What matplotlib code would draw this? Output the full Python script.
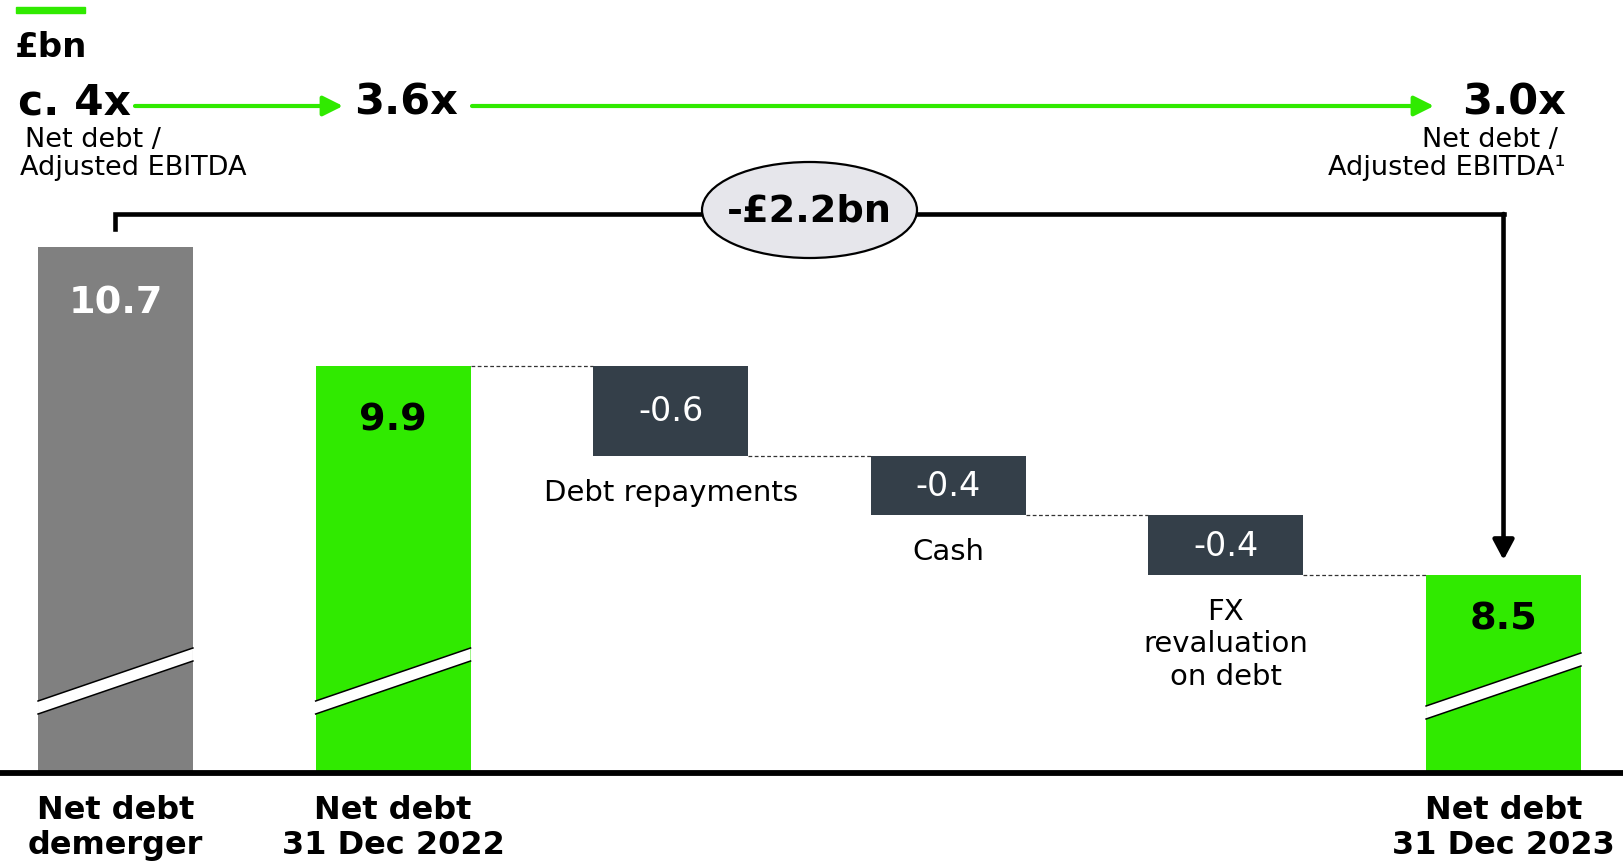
import numpy as np
import matplotlib
matplotlib.use("Agg")
import matplotlib.pyplot as plt
from matplotlib.patches import Ellipse, Polygon, Rectangle

# values in £bn
categories = ["Net debt\ndemerger", "Net debt\n31 Dec 2022", "Debt repayments", "Cash",
              "FX\nrevaluation\non debt", "Net debt\n31 Dec 2023"]
demerger_debt = 10.7
start_debt = 9.9
movements = [-0.6, -0.4, -0.4]
end_debt = 8.5
leverage = ["c. 4x", "3.6x", "3.0x"]
leverage_note = ["Net debt /", "Adjusted EBITDA", "Adjusted EBITDA\u00b9"]
total_change = "-£2.2bn"

W, H = 1624, 862
green = "#30EA00"
grey = "#808080"
slate = "#343F49"

# broken y axis: bars start at 'floor', about 149 px per £bn
floor = 7.172
px = 1 / 149.1
bar_w = 0.558

fig = plt.figure(figsize=(W / 100, H / 100), dpi=100)
ax = fig.add_axes([0, 0, 1, 1])
ax.set_xlim(-0.416, 5.434)
ax.set_ylim(floor - 88 * px, floor + 774 * px)
ax.axis("off")

# waterfall geometry
levels = start_debt + np.cumsum([0] + movements)
tops = np.array([demerger_debt, start_debt] + list(levels[:-1]) + [end_debt])
bottoms = np.array([floor, floor] + list(levels[1:]) + [floor])
x = np.arange(len(categories))
colors = [grey, green, slate, slate, slate, green]

ax.bar(x, tops - bottoms, bottom=bottoms, width=bar_w, color=colors, zorder=2)
ax.axhline(floor, color="black", lw=4.2, zorder=4)

# dashed connectors
for i in range(1, 5):
    ax.plot([i + bar_w / 2, i + 1 - bar_w / 2], [tops[i + 1], tops[i + 1]],
            color="#333333", lw=0.9, ls=(0, (3, 2)), zorder=1)

# axis break marks on the total bars
t = 13 * px
break_shift = {0: 0, 1: 0, 5: -5}
for i in [0, 1, 5]:
    xl, xr = i - bar_w / 2, i + bar_w / 2
    yl = floor + (59 + break_shift[i]) * px
    yr = floor + (112 + break_shift[i]) * px
    ax.add_patch(Polygon([(xl, yl), (xr, yr), (xr, yr + t), (xl, yl + t)],
                         closed=True, fc="white", ec="none", zorder=3))
    ax.plot([xl, xr], [yl, yr], color="black", lw=1.1, zorder=3)
    ax.plot([xl, xr], [yl + t, yr + t], color="black", lw=1.1, zorder=3)

# value labels
label_drop = {0: 56, 1: 53, 5: 44}
for i, c in [(0, "white"), (1, "black"), (5, "black")]:
    ax.text(i, tops[i] - label_drop[i] * px, f"{tops[i]:.1f}", ha="center", va="center",
            fontsize=27.5, fontweight="bold", color=c, zorder=5)
for k, v in enumerate(movements):
    i = k + 2
    ax.text(i, (tops[i] + bottoms[i]) / 2, f"{v:.1f}", ha="center", va="center",
            fontsize=24, color="white", zorder=5)
    ax.text(i, bottoms[i] - 22 * px, categories[i], ha="center", va="top",
            fontsize=21, linespacing=1.2, color="black")

for i in [0, 1, 5]:
    ax.text(i, floor - 21 * px, categories[i], ha="center", va="top",
            fontsize=23, fontweight="bold", linespacing=1.18)

# bracket with total change
yb = floor + (774 - 215) * px
ax.plot([0, 0, 5], [tops[0] + 18 * px, yb, yb], color="black", lw=3.3,
        solid_joinstyle="miter", zorder=3)
ax.annotate("", xy=(5, end_debt + 15 * px), xytext=(5, yb),
            arrowprops=dict(arrowstyle="-|>,head_length=0.6,head_width=0.32",
                            mutation_scale=20, lw=3.3, color="black",
                            shrinkA=0, shrinkB=0), zorder=3)
ye = floor + (774 - 211) * px
ax.add_patch(Ellipse((2.5, ye), 215 / 277.6, 96 * px, fc="#E6E6EB", ec="black",
                     lw=1.6, zorder=5))
ax.text(2.5, ye, total_change, ha="center", va="center", fontsize=27.5,
        fontweight="bold", zorder=6)

# header
def fp(xp, yp):
    return (xp, H - yp)

fig.add_artist(Rectangle((16 / W, 1 - 14 / H), 69 / W, 6 / H, color=green,
                         transform=fig.transFigure))
fig.text(15 / W, 1 - 57 / H, "£bn", fontsize=24.5, fontweight="bold", va="baseline")
fig.text(18 / W, 1 - 115 / H, leverage[0], fontsize=30.5, fontweight="bold", va="baseline")
fig.text(354 / W, 1 - 115 / H, leverage[1], fontsize=31, fontweight="bold", va="baseline")
fig.text(1566 / W, 1 - 115 / H, leverage[2], fontsize=31, fontweight="bold",
         va="baseline", ha="right")
fig.text(25 / W, 1 - 147 / H, leverage_note[0], fontsize=19.5, va="baseline")
fig.text(20 / W, 1 - 175 / H, leverage_note[1], fontsize=19.5, va="baseline")
fig.text(1558 / W, 1 - 147 / H, leverage_note[0], fontsize=19.5, va="baseline", ha="right")
fig.text(1566 / W, 1 - 175 / H, leverage_note[2], fontsize=19.5, va="baseline", ha="right")

for x0, x1 in [(135, 343), (472, 1434)]:
    ax.annotate("", xy=fp(x1, 107), xytext=fp(x0, 107),
                xycoords="figure pixels", textcoords="figure pixels",
                arrowprops=dict(arrowstyle="-|>,head_length=0.6,head_width=0.3",
                                mutation_scale=20, lw=3, color=green,
                                shrinkA=0, shrinkB=0))

fig.savefig("out.png", dpi=100)
